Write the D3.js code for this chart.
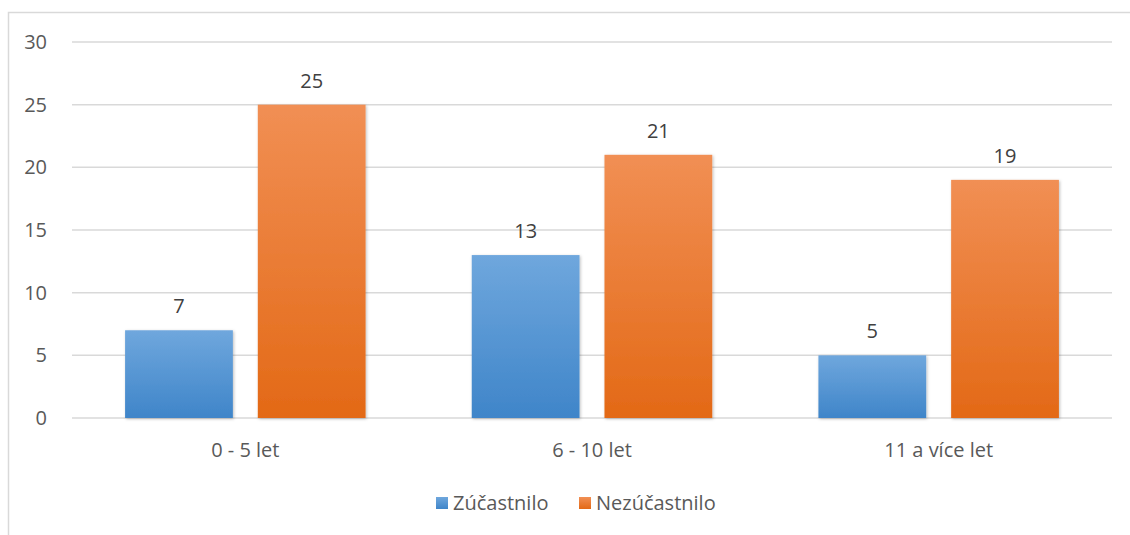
<!doctype html>
<html lang="cs">
<head>
<meta charset="utf-8">
<title>Graf</title>
<script src="https://cdn.jsdelivr.net/npm/d3@7"></script>
<style>
  body { margin: 0; background: #fff; }
  svg { display: block; font-family: "Open Sans", "Liberation Sans", sans-serif; }
  .grid line { stroke: #d9d9d9; stroke-width: 1.5px; }
  .lbl { fill: #595959; font-size: 20px; }
  .val { fill: #404040; }
</style>
</head>
<body>
<div id="chart"></div>
<script>
var categories = ["0 - 5 let", "6 - 10 let", "11 a více let"];
var seriesNames = ["Zúčastnilo", "Nezúčastnilo"];
var zucastnilo = [7, 13, 5];
var nezucastnilo = [25, 21, 19];
var yTicks = [0, 5, 10, 15, 20, 25, 30];

var width = 1130, height = 535;
var margin = {left: 72, right: 18, top: 42, bottom: 117};

var svg = d3.select("#chart").append("svg")
    .attr("width", width)
    .attr("height", height);

// outer frame
svg.append("rect")
    .attr("x", 8.5).attr("y", 12.5)
    .attr("width", width + 10).attr("height", height + 10)
    .attr("fill", "none").attr("stroke", "#d9d9d9").attr("stroke-width", 1.5);

var defs = svg.append("defs");
var grads = [["gBlue", "#6fa7dd", "#3f85c9"], ["gOrange", "#f18f54", "#e36916"]];
grads.forEach(function(g) {
  var lg = defs.append("linearGradient").attr("id", g[0])
      .attr("x1", 0).attr("y1", 0).attr("x2", 0).attr("y2", 1);
  lg.append("stop").attr("offset", "0%").attr("stop-color", g[1]);
  lg.append("stop").attr("offset", "100%").attr("stop-color", g[2]);
});
var f = defs.append("filter").attr("id", "shadow")
    .attr("x", "-10%").attr("y", "-10%").attr("width", "130%").attr("height", "120%");
f.append("feDropShadow").attr("dx", 1).attr("dy", 1).attr("stdDeviation", 1.5)
    .attr("flood-color", "#000").attr("flood-opacity", 0.25);

var x0 = d3.scaleBand()
    .domain(categories)
    .range([margin.left, width - margin.right]);

var x1 = d3.scaleBand()
    .domain(seriesNames)
    .range([0, x0.bandwidth()])
    .paddingInner(0.188)
    .paddingOuter(0.4);

var y = d3.scaleLinear()
    .domain([0, 30])
    .range([height - margin.bottom, margin.top]);

// gridlines
svg.append("g").attr("class", "grid")
  .selectAll("line").data(yTicks).join("line")
    .attr("x1", margin.left).attr("x2", width - margin.right)
    .attr("y1", function(d) { return y(d); })
    .attr("y2", function(d) { return y(d); });

// y labels
svg.append("g").selectAll("text").data(yTicks).join("text")
    .attr("class", "lbl")
    .attr("x", 47)
    .attr("y", function(d) { return y(d); })
    .attr("dy", "0.35em")
    .attr("text-anchor", "end")
    .text(function(d) { return d; });

var data = categories.map(function(c, i) {
  return {cat: c, vals: [{s: seriesNames[0], v: zucastnilo[i], g: "gBlue"},
                         {s: seriesNames[1], v: nezucastnilo[i], g: "gOrange"}]};
});

var groups = svg.append("g").selectAll("g").data(data).join("g")
    .attr("transform", function(d) { return "translate(" + x0(d.cat) + ",0)"; });

groups.selectAll("rect").data(function(d) { return d.vals; }).join("rect")
    .attr("x", function(d) { return x1(d.s); })
    .attr("width", x1.bandwidth())
    .attr("y", function(d) { return y(d.v); })
    .attr("height", function(d) { return y(0) - y(d.v); })
    .attr("fill", function(d) { return "url(#" + d.g + ")"; })
    .attr("filter", "url(#shadow)");

groups.selectAll("text.val").data(function(d) { return d.vals; }).join("text")
    .attr("class", "lbl val")
    .attr("x", function(d) { return x1(d.s) + x1.bandwidth() / 2; })
    .attr("y", function(d) { return y(d.v) - 17; })
    .attr("text-anchor", "middle")
    .text(function(d) { return d.v; });

// category labels
svg.append("g").selectAll("text").data(categories).join("text")
    .attr("class", "lbl")
    .attr("x", function(d) { return x0(d) + x0.bandwidth() / 2; })
    .attr("y", 457)
    .attr("text-anchor", "middle")
    .text(function(d) { return d; });

// legend
var legendX = [436, 579];
var leg = svg.append("g").selectAll("g").data(seriesNames).join("g")
    .attr("transform", function(d, i) { return "translate(" + legendX[i] + ",497)"; });
leg.append("rect")
    .attr("width", 12).attr("height", 12)
    .attr("fill", function(d, i) { return "url(#" + grads[i][0] + ")"; });
leg.append("text")
    .attr("class", "lbl")
    .attr("x", 17).attr("y", 6).attr("dy", "0.35em")
    .text(function(d) { return d; });
</script>
</body>
</html>
